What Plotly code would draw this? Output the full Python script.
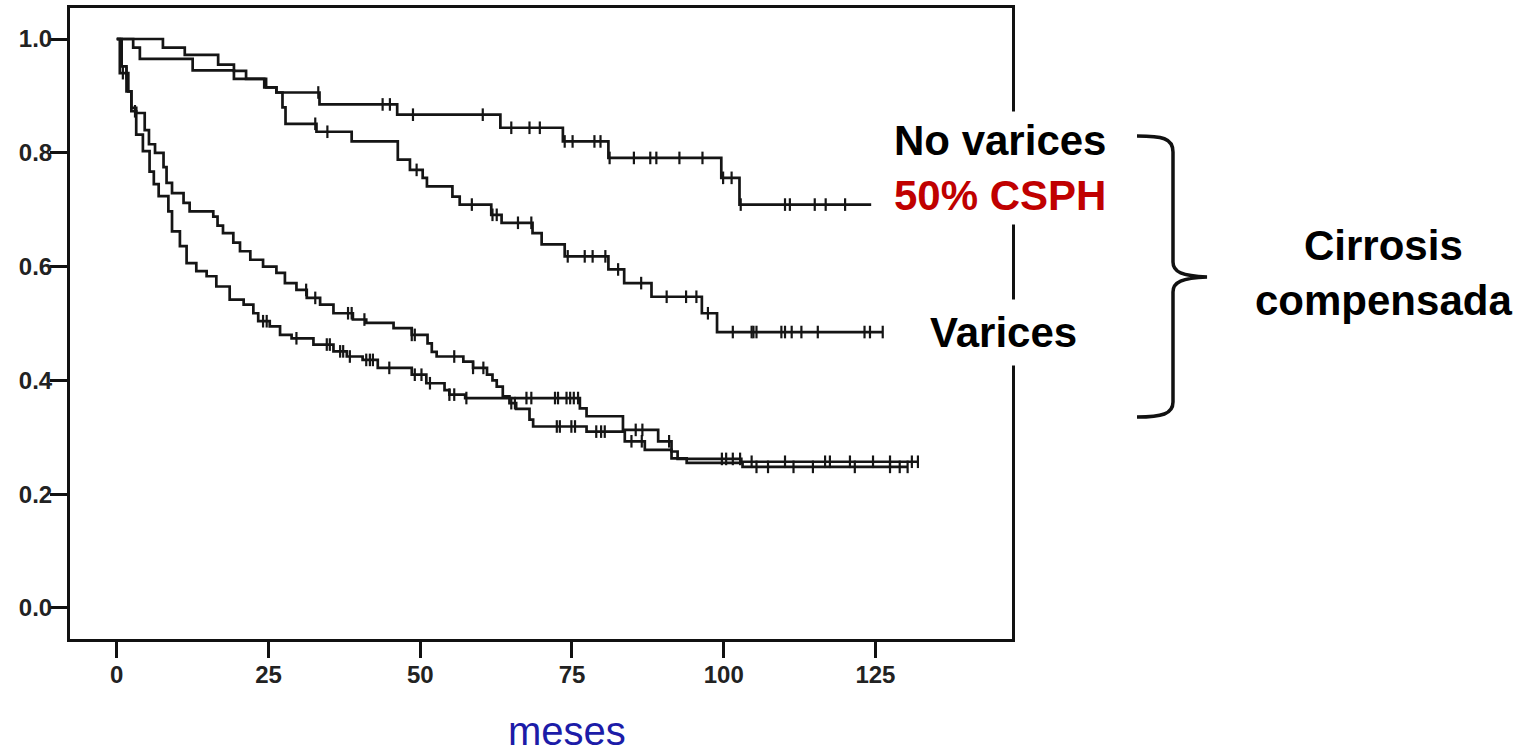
import numpy as np
import plotly.graph_objects as go

# ---------------- data (months, survival) ----------------
x_ticks = [0, 25, 50, 75, 100, 125]
y_ticks = [0.0, 0.2, 0.4, 0.6, 0.8, 1.0]

# Curve A: top curve (ends ~0.71)
a_t = [0, 2.7, 3.8, 12.5, 19.3, 24.3, 26.3, 33.4, 46.2, 63.2, 73.5, 81.0, 99.6, 102.6, 124.3]
a_s = [1.0, 0.985, 0.965, 0.945, 0.93, 0.915, 0.906, 0.885, 0.867, 0.844, 0.82, 0.791, 0.756, 0.709, 0.709]
a_cens = [33.2, 43.8, 45.0, 48.8, 60.3, 65.0, 68.0, 69.7, 73.8, 75.1, 78.7, 79.7, 81.2, 85.2,
          87.9, 88.9, 92.7, 96.5, 99.9, 101.3, 102.8, 110.1, 110.9, 115.0, 116.8, 120.0]

# Curve B: second curve (ends ~0.48)
b_t = [0, 7.6, 11.2, 16.7, 19.3, 21.3, 24.6, 26.3, 27.3, 27.8, 32.9, 38.7, 46.3, 48.3, 50.4, 51.1,
       55.3, 56.5, 61.7, 63.4, 68.5, 70.0, 73.8, 81.0, 83.6, 88.1, 96.4, 98.9, 126.2]
b_s = [1.0, 0.985, 0.972, 0.955, 0.944, 0.93, 0.915, 0.906, 0.88, 0.851, 0.837, 0.82, 0.788, 0.77,
       0.756, 0.741, 0.723, 0.709, 0.691, 0.677, 0.659, 0.639, 0.618, 0.595, 0.571, 0.547, 0.518,
       0.485, 0.485]
b_cens = [32.7, 34.7, 49.4, 58.5, 61.9, 62.6, 66.1, 68.3, 74.3, 77.1, 78.4, 80.5, 82.6, 86.4, 90.6,
          93.8, 95.5, 97.4, 101.5, 104.6, 104.9, 105.4, 109.5, 110.1, 111.2, 112.8, 115.5, 123.2,
          124.1, 126.2]

# Curve C: lower pair, upper early (ends ~0.25)
c_t = [0, 0.8, 1.6, 2.4, 3.2, 4.6, 5.3, 6.3, 7.7, 8.2, 9.1, 11.0, 12.0, 15.9, 16.6, 17.5, 19.2,
       20.3, 22.0, 24.1, 26.3, 27.7, 29.6, 31.3, 33.5, 35.7, 38.9, 41.1, 45.6, 48.6, 51.2, 51.9,
       52.7, 57.1, 58.7, 61.0, 61.9, 62.6, 63.6, 64.7, 65.8, 68.0, 68.6, 77.4, 83.7, 87.0, 91.4,
       93.9, 103.1, 130.3]
c_s = [1.0, 0.952, 0.908, 0.879, 0.87, 0.84, 0.815, 0.80, 0.775, 0.747, 0.729, 0.712, 0.697,
       0.688, 0.672, 0.659, 0.642, 0.627, 0.612, 0.60, 0.589, 0.571, 0.559, 0.545, 0.533, 0.518,
       0.507, 0.501, 0.492, 0.48, 0.465, 0.45, 0.442, 0.433, 0.422, 0.41, 0.40, 0.389, 0.372,
       0.36, 0.35, 0.331, 0.319, 0.31, 0.293, 0.278, 0.263, 0.255, 0.248, 0.248]
c_cens = [31.2, 32.7, 38.1, 38.7, 40.8, 48.6, 49.1, 55.6, 58.7, 60.4, 65.0, 65.6, 72.5, 73.0,
          74.9, 75.5, 79.0, 79.8, 80.4, 84.8, 86.5, 105.4, 107.3, 111.5, 114.7, 121.6, 127.4,
          129.0, 130.3]

# Curve D: lower pair, lower early (ends ~0.26)
d_t = [0, 0.5, 1.9, 2.4, 3.2, 4.3, 5.4, 6.1, 6.9, 8.5, 9.1, 10.4, 11.5, 13.1, 14.8, 16.4, 18.6,
       20.9, 22.5, 23.3, 25.2, 26.9, 28.8, 32.4, 35.7, 37.9, 40.5, 43.0, 48.6, 51.0, 54.0, 54.8,
       57.4, 76.3, 77.4, 83.4, 89.2, 91.4, 92.4, 102.9, 132.0]
d_s = [1.0, 0.94, 0.908, 0.873, 0.832, 0.803, 0.767, 0.745, 0.724, 0.697, 0.662, 0.636, 0.606,
       0.592, 0.583, 0.565, 0.542, 0.533, 0.518, 0.504, 0.495, 0.48, 0.474, 0.463, 0.451, 0.442,
       0.436, 0.422, 0.41, 0.395, 0.383, 0.375, 0.369, 0.351, 0.337, 0.313, 0.293, 0.275, 0.262,
       0.257, 0.257]
d_cens = [1.0, 1.6, 3.0, 24.1, 24.7, 29.6, 34.6, 35.1, 36.8, 37.3, 38.4, 41.1, 41.7, 42.2, 44.9,
          49.1, 50.2, 51.6, 54.8, 55.6, 57.6, 67.5, 68.3, 72.2, 72.7, 74.1, 74.7, 75.3, 76.0, 85.5,
          86.6, 91.0, 99.7, 100.4, 101.5, 102.7, 104.6, 110.1, 116.7, 117.5, 120.8, 124.6, 127.4,
          131.0, 132.0]

curves = [("A", a_t, a_s, a_cens), ("B", b_t, b_s, b_cens),
          ("C", c_t, c_s, c_cens), ("D", d_t, d_s, d_cens)]

LINE = "#151515"

fig = go.Figure()
for name, t, s, cens in curves:
    fig.add_trace(go.Scatter(x=t, y=s, mode="lines", line=dict(color=LINE, width=2.7, shape="hv"),
                             name=name, showlegend=False, hoverinfo="skip"))
    idx = np.searchsorted(np.array(t), np.array(cens), side="right") - 1
    cy = np.array(s)[idx]
    fig.add_trace(go.Scatter(x=cens, y=cy, mode="markers",
                             marker=dict(symbol="line-ns-open", size=9, color=LINE,
                                         line=dict(color=LINE, width=2.2)),
                             showlegend=False, hoverinfo="skip"))

# ---------------- layout geometry ----------------
W, H = 1522, 756
L, R, T, B = 70, 1012, 8, 639


def px(x, y):
    return (x - L) / (R - L), (B - y) / (B - T)


FONT = "Liberation Sans, Arial, sans-serif"

fig.update_layout(
    width=W, height=H,
    margin=dict(l=L, r=W - R, t=T, b=H - B, pad=0),
    paper_bgcolor="white", plot_bgcolor="white",
    showlegend=False,
    xaxis=dict(range=[-7.71, 147.5], tickvals=x_ticks, ticks="outside", ticklen=16, tickwidth=2.5,
               tickcolor="#111", showline=True, linewidth=3, linecolor="#111", mirror=True,
               showgrid=False, zeroline=False, automargin=False, ticklabelstandoff=-4,
               tickfont=dict(family=FONT, size=24, color="#222", weight="bold")),
    yaxis=dict(range=[-0.0545, 1.0545], tickvals=y_ticks, tickformat=".1f", ticks="outside",
               ticklen=17, tickwidth=2.5, tickcolor="#111", showline=True, linewidth=3,
               linecolor="#111", mirror=True, showgrid=False, zeroline=False, automargin=False,
               ticklabelstandoff=-7,
               tickfont=dict(family=FONT, size=24, color="#222", weight="bold")),
)


def P(x, y):
    a, b = px(x, y)
    return f"{a:.5f},{b:.5f}"


brace = (f"M {P(1137,136)} C {P(1162,136)} {P(1173,138)} {P(1173,152)} "
         f"L {P(1173,262)} C {P(1173,272)} {P(1182,276)} {P(1207,277)} "
         f"C {P(1182,278)} {P(1173,282)} {P(1173,292)} "
         f"L {P(1173,402)} C {P(1173,414)} {P(1162,417)} {P(1137,417)}")
fig.add_shape(type="path", path=brace, xref="paper", yref="paper",
              line=dict(color="#111", width=3.5))


def ann(text, x, y, size, color="#000", weight="bold", bg=None, pad=1):
    ax, ay = px(x, y)
    fig.add_annotation(text=text, x=ax, y=ay, xref="paper", yref="paper", showarrow=False,
                       xanchor="center", yanchor="middle", align="center",
                       font=dict(family=FONT, size=size, color=color, weight=weight),
                       bgcolor=bg, borderpad=pad)


ann("No varices<br><span style='color:#C00000'>50% CSPH</span>", 1000, 168, 42, bg="white", pad=5)
ann("Varices", 1003, 332, 42, bg="white", pad=9)
ann("Cirrosis<br>compensada", 1383, 273, 42)
ann("meses", 567, 731, 40, color="#1c1ca8", weight="normal")

fig.write_html("out.html", config={"displayModeBar": False},
               post_script="document.body.style.margin='0px';")
